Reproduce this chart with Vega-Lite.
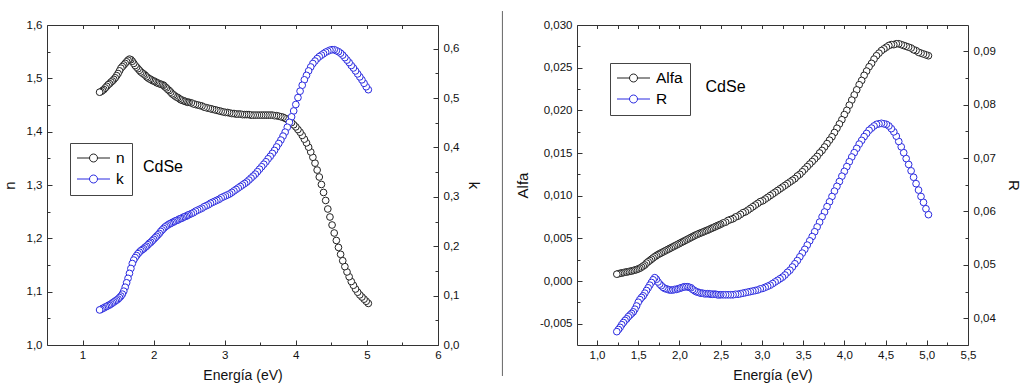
{
"$schema": "https://vega.github.io/schema/vega-lite/v6.json",
"padding": {"left": 2, "top": 10, "right": 5, "bottom": 3},
"datasets": {"p": [
{"E":1.24,"n":1.474,"k":0.071,"a":0.0008,"r":0.0375},
{"E":1.26,"n":1.475,"k":0.072,"a":0.00085,"r":0.0379},
{"E":1.28,"n":1.477,"k":0.074,"a":0.0009,"r":0.0383},
{"E":1.30,"n":1.479,"k":0.075,"a":0.00094,"r":0.0388},
{"E":1.32,"n":1.482,"k":0.077,"a":0.00098,"r":0.0392},
{"E":1.34,"n":1.485,"k":0.078,"a":0.00102,"r":0.0396},
{"E":1.36,"n":1.488,"k":0.080,"a":0.00106,"r":0.0399},
{"E":1.38,"n":1.490,"k":0.081,"a":0.0011,"r":0.0403},
{"E":1.40,"n":1.493,"k":0.083,"a":0.00113,"r":0.0406},
{"E":1.42,"n":1.495,"k":0.085,"a":0.00118,"r":0.0409},
{"E":1.44,"n":1.498,"k":0.087,"a":0.00123,"r":0.0412},
{"E":1.46,"n":1.501,"k":0.089,"a":0.00128,"r":0.0417},
{"E":1.48,"n":1.505,"k":0.091,"a":0.00134,"r":0.0423},
{"E":1.50,"n":1.509,"k":0.093,"a":0.00141,"r":0.0430},
{"E":1.52,"n":1.514,"k":0.096,"a":0.0015,"r":0.0435},
{"E":1.54,"n":1.519,"k":0.099,"a":0.00162,"r":0.0439},
{"E":1.56,"n":1.522,"k":0.103,"a":0.00175,"r":0.0442},
{"E":1.58,"n":1.525,"k":0.109,"a":0.00188,"r":0.0447},
{"E":1.60,"n":1.528,"k":0.117,"a":0.0021,"r":0.0452},
{"E":1.62,"n":1.531,"k":0.126,"a":0.00225,"r":0.0457},
{"E":1.64,"n":1.534,"k":0.135,"a":0.0024,"r":0.0462},
{"E":1.66,"n":1.536,"k":0.145,"a":0.00255,"r":0.0467},
{"E":1.68,"n":1.535,"k":0.155,"a":0.0027,"r":0.0472},
{"E":1.70,"n":1.532,"k":0.165,"a":0.00285,"r":0.0476},
{"E":1.72,"n":1.528,"k":0.172,"a":0.00297,"r":0.0473},
{"E":1.74,"n":1.524,"k":0.177,"a":0.0031,"r":0.0468},
{"E":1.76,"n":1.521,"k":0.181,"a":0.0032,"r":0.0464},
{"E":1.78,"n":1.518,"k":0.185,"a":0.0033,"r":0.0461},
{"E":1.80,"n":1.515,"k":0.188,"a":0.0034,"r":0.0458},
{"E":1.82,"n":1.512,"k":0.191,"a":0.0035,"r":0.0456},
{"E":1.84,"n":1.510,"k":0.193,"a":0.0036,"r":0.0455},
{"E":1.86,"n":1.508,"k":0.195,"a":0.0037,"r":0.0454},
{"E":1.88,"n":1.506,"k":0.198,"a":0.0038,"r":0.0453},
{"E":1.90,"n":1.503,"k":0.200,"a":0.0039,"r":0.0453},
{"E":1.92,"n":1.501,"k":0.203,"a":0.0040,"r":0.0453},
{"E":1.94,"n":1.499,"k":0.206,"a":0.0041,"r":0.0454},
{"E":1.96,"n":1.498,"k":0.208,"a":0.0042,"r":0.0454},
{"E":1.98,"n":1.496,"k":0.211,"a":0.0043,"r":0.0455},
{"E":2.00,"n":1.495,"k":0.214,"a":0.0044,"r":0.0456},
{"E":2.02,"n":1.494,"k":0.217,"a":0.0045,"r":0.0457},
{"E":2.04,"n":1.492,"k":0.220,"a":0.0046,"r":0.0458},
{"E":2.06,"n":1.491,"k":0.223,"a":0.0047,"r":0.0459},
{"E":2.08,"n":1.490,"k":0.226,"a":0.0048,"r":0.0459},
{"E":2.10,"n":1.489,"k":0.230,"a":0.0049,"r":0.0459},
{"E":2.12,"n":1.488,"k":0.233,"a":0.0050,"r":0.0458},
{"E":2.14,"n":1.487,"k":0.236,"a":0.0051,"r":0.0457},
{"E":2.16,"n":1.484,"k":0.239,"a":0.0052,"r":0.0454},
{"E":2.18,"n":1.482,"k":0.241,"a":0.0053,"r":0.0452},
{"E":2.20,"n":1.479,"k":0.243,"a":0.0054,"r":0.0450},
{"E":2.22,"n":1.477,"k":0.245,"a":0.00548,"r":0.0449},
{"E":2.24,"n":1.474,"k":0.246,"a":0.00556,"r":0.0448},
{"E":2.26,"n":1.471,"k":0.248,"a":0.00564,"r":0.0447},
{"E":2.28,"n":1.469,"k":0.249,"a":0.00572,"r":0.0447},
{"E":2.30,"n":1.467,"k":0.251,"a":0.0058,"r":0.0446},
{"E":2.32,"n":1.465,"k":0.252,"a":0.00588,"r":0.0446},
{"E":2.34,"n":1.464,"k":0.253,"a":0.00596,"r":0.0446},
{"E":2.36,"n":1.462,"k":0.255,"a":0.00604,"r":0.0446},
{"E":2.38,"n":1.460,"k":0.256,"a":0.00613,"r":0.0445},
{"E":2.40,"n":1.459,"k":0.257,"a":0.00622,"r":0.0445},
{"E":2.42,"n":1.458,"k":0.259,"a":0.0063,"r":0.0445},
{"E":2.44,"n":1.457,"k":0.260,"a":0.00639,"r":0.0445},
{"E":2.46,"n":1.456,"k":0.261,"a":0.00648,"r":0.0444},
{"E":2.48,"n":1.455,"k":0.263,"a":0.00656,"r":0.0444},
{"E":2.50,"n":1.455,"k":0.264,"a":0.00665,"r":0.0444},
{"E":2.53,"n":1.454,"k":0.266,"a":0.0068,"r":0.0444},
{"E":2.56,"n":1.452,"k":0.268,"a":0.0069,"r":0.0444},
{"E":2.59,"n":1.451,"k":0.271,"a":0.0071,"r":0.0444},
{"E":2.62,"n":1.450,"k":0.273,"a":0.0072,"r":0.0444},
{"E":2.65,"n":1.449,"k":0.275,"a":0.0073,"r":0.0444},
{"E":2.68,"n":1.448,"k":0.277,"a":0.0075,"r":0.0445},
{"E":2.71,"n":1.446,"k":0.280,"a":0.0076,"r":0.0445},
{"E":2.74,"n":1.445,"k":0.282,"a":0.0078,"r":0.0446},
{"E":2.77,"n":1.444,"k":0.284,"a":0.0080,"r":0.0447},
{"E":2.80,"n":1.443,"k":0.287,"a":0.0081,"r":0.0448},
{"E":2.83,"n":1.442,"k":0.289,"a":0.0083,"r":0.0449},
{"E":2.86,"n":1.441,"k":0.291,"a":0.0085,"r":0.0450},
{"E":2.89,"n":1.440,"k":0.293,"a":0.0087,"r":0.0451},
{"E":2.92,"n":1.439,"k":0.295,"a":0.0089,"r":0.0452},
{"E":2.95,"n":1.438,"k":0.298,"a":0.0091,"r":0.0453},
{"E":2.98,"n":1.437,"k":0.300,"a":0.0093,"r":0.0455},
{"E":3.01,"n":1.436,"k":0.302,"a":0.0094,"r":0.0456},
{"E":3.04,"n":1.436,"k":0.304,"a":0.0096,"r":0.0458},
{"E":3.07,"n":1.435,"k":0.306,"a":0.0098,"r":0.0460},
{"E":3.10,"n":1.434,"k":0.309,"a":0.0100,"r":0.0462},
{"E":3.13,"n":1.434,"k":0.312,"a":0.0102,"r":0.0465},
{"E":3.16,"n":1.433,"k":0.315,"a":0.0104,"r":0.0468},
{"E":3.19,"n":1.433,"k":0.318,"a":0.0106,"r":0.0471},
{"E":3.22,"n":1.433,"k":0.321,"a":0.0108,"r":0.0474},
{"E":3.25,"n":1.432,"k":0.324,"a":0.0110,"r":0.0477},
{"E":3.28,"n":1.432,"k":0.327,"a":0.0112,"r":0.0481},
{"E":3.31,"n":1.432,"k":0.330,"a":0.0114,"r":0.0486},
{"E":3.34,"n":1.432,"k":0.334,"a":0.0116,"r":0.0490},
{"E":3.37,"n":1.431,"k":0.338,"a":0.0118,"r":0.0496},
{"E":3.40,"n":1.431,"k":0.342,"a":0.0120,"r":0.0502},
{"E":3.43,"n":1.431,"k":0.346,"a":0.0123,"r":0.0508},
{"E":3.46,"n":1.431,"k":0.351,"a":0.0125,"r":0.0515},
{"E":3.49,"n":1.431,"k":0.356,"a":0.0128,"r":0.0522},
{"E":3.52,"n":1.431,"k":0.361,"a":0.0131,"r":0.0529},
{"E":3.55,"n":1.431,"k":0.366,"a":0.0134,"r":0.0537},
{"E":3.58,"n":1.431,"k":0.371,"a":0.0137,"r":0.0545},
{"E":3.61,"n":1.431,"k":0.377,"a":0.0140,"r":0.0553},
{"E":3.64,"n":1.431,"k":0.382,"a":0.0143,"r":0.0562},
{"E":3.67,"n":1.431,"k":0.388,"a":0.0146,"r":0.0571},
{"E":3.70,"n":1.430,"k":0.394,"a":0.0150,"r":0.0580},
{"E":3.73,"n":1.430,"k":0.401,"a":0.0153,"r":0.0590},
{"E":3.76,"n":1.429,"k":0.408,"a":0.0157,"r":0.0599},
{"E":3.79,"n":1.428,"k":0.415,"a":0.0161,"r":0.0609},
{"E":3.82,"n":1.427,"k":0.423,"a":0.0165,"r":0.0618},
{"E":3.85,"n":1.425,"k":0.431,"a":0.0169,"r":0.0628},
{"E":3.88,"n":1.423,"k":0.441,"a":0.0174,"r":0.0638},
{"E":3.91,"n":1.420,"k":0.451,"a":0.0179,"r":0.0647},
{"E":3.94,"n":1.417,"k":0.462,"a":0.0184,"r":0.0656},
{"E":3.97,"n":1.413,"k":0.474,"a":0.0189,"r":0.0666},
{"E":4.00,"n":1.409,"k":0.487,"a":0.0195,"r":0.0675},
{"E":4.03,"n":1.404,"k":0.501,"a":0.0200,"r":0.0684},
{"E":4.06,"n":1.399,"k":0.514,"a":0.0206,"r":0.0693},
{"E":4.09,"n":1.393,"k":0.526,"a":0.0212,"r":0.0702},
{"E":4.12,"n":1.386,"k":0.537,"a":0.0218,"r":0.0710},
{"E":4.15,"n":1.379,"k":0.546,"a":0.0224,"r":0.0718},
{"E":4.18,"n":1.371,"k":0.555,"a":0.0230,"r":0.0726},
{"E":4.21,"n":1.362,"k":0.563,"a":0.0235,"r":0.0733},
{"E":4.24,"n":1.352,"k":0.570,"a":0.0241,"r":0.0740},
{"E":4.27,"n":1.341,"k":0.575,"a":0.0246,"r":0.0746},
{"E":4.30,"n":1.328,"k":0.580,"a":0.0251,"r":0.0752},
{"E":4.33,"n":1.315,"k":0.584,"a":0.0255,"r":0.0756},
{"E":4.36,"n":1.301,"k":0.587,"a":0.0260,"r":0.0760},
{"E":4.39,"n":1.286,"k":0.590,"a":0.0264,"r":0.0763},
{"E":4.42,"n":1.271,"k":0.593,"a":0.0267,"r":0.0764},
{"E":4.45,"n":1.255,"k":0.595,"a":0.0270,"r":0.0765},
{"E":4.48,"n":1.240,"k":0.597,"a":0.0272,"r":0.0764},
{"E":4.51,"n":1.225,"k":0.598,"a":0.0274,"r":0.0763},
{"E":4.54,"n":1.210,"k":0.598,"a":0.0276,"r":0.0760},
{"E":4.57,"n":1.196,"k":0.596,"a":0.0277,"r":0.0755},
{"E":4.60,"n":1.183,"k":0.594,"a":0.0277,"r":0.0749},
{"E":4.63,"n":1.170,"k":0.591,"a":0.0278,"r":0.0741},
{"E":4.66,"n":1.158,"k":0.587,"a":0.0278,"r":0.0731},
{"E":4.69,"n":1.147,"k":0.582,"a":0.0277,"r":0.0721},
{"E":4.72,"n":1.137,"k":0.577,"a":0.0276,"r":0.0710},
{"E":4.75,"n":1.128,"k":0.572,"a":0.0275,"r":0.0699},
{"E":4.78,"n":1.119,"k":0.566,"a":0.0274,"r":0.0688},
{"E":4.81,"n":1.112,"k":0.561,"a":0.0273,"r":0.0676},
{"E":4.84,"n":1.105,"k":0.555,"a":0.0271,"r":0.0664},
{"E":4.87,"n":1.099,"k":0.549,"a":0.0270,"r":0.0652},
{"E":4.90,"n":1.094,"k":0.543,"a":0.0268,"r":0.0640},
{"E":4.93,"n":1.090,"k":0.537,"a":0.0267,"r":0.0628},
{"E":4.96,"n":1.086,"k":0.530,"a":0.0266,"r":0.0617},
{"E":4.99,"n":1.082,"k":0.523,"a":0.0265,"r":0.0605},
{"E":5.02,"n":1.078,"k":0.517,"a":0.0264,"r":0.0594}
]},
"hconcat": [
{
"width": 391, "height": 320,
"layer": [
{"data": {"name": "p"}, "mark": {"type": "point", "opacity": 0},
 "encoding": {
  "x": {"field": "E", "type": "quantitative", "scale": {"domain": [0.5, 6], "nice": false, "zero": false},
        "axis": {"orient": "bottom", "values": [1.5, 2.5, 3.5, 4.5, 5.5], "labels": false, "domain": false, "tickSize": -3, "title": null}},
  "y": {"field": "n", "type": "quantitative", "scale": {"domain": [1, 1.6], "nice": false, "zero": false},
        "axis": {"orient": "left", "values": [1.05, 1.15, 1.25, 1.35, 1.45, 1.55], "labels": false, "domain": false, "tickSize": -3, "title": null}}}},
{"data": {"name": "p"}, "mark": {"type": "point", "opacity": 0},
 "encoding": {
  "x": {"field": "E", "type": "quantitative", "scale": {"domain": [0.5, 6], "nice": false, "zero": false},
        "axis": {"orient": "top", "values": [1, 1.5, 2, 2.5, 3, 3.5, 4, 4.5, 5, 5.5], "labels": false, "tickSize": -3.5, "title": null}},
  "y": {"field": "k", "type": "quantitative", "scale": {"domain": [0, 0.648], "nice": false, "zero": false},
        "axis": {"orient": "right", "values": [0.05, 0.15, 0.25, 0.35, 0.45, 0.55], "labels": false, "domain": false, "tickSize": -3, "title": null}}}},
{"data": {"name": "p"}, "mark": {"type": "point", "filled": false, "fill": "white", "fillOpacity": 1, "size": 45, "strokeWidth": 1, "opacity": 1},
 "encoding": {
  "x": {"field": "E", "type": "quantitative", "scale": {"domain": [0.5, 6], "nice": false, "zero": false},
        "axis": {"orient": "bottom", "values": [1, 2, 3, 4, 5, 6], "format": "d", "tickSize": -5, "labelPadding": 9, "title": "Energía (eV)", "titlePadding": 8}},
  "y": {"field": "n", "type": "quantitative", "scale": {"domain": [1, 1.6], "nice": false, "zero": false},
        "axis": {"orient": "left", "values": [1, 1.1, 1.2, 1.3, 1.4, 1.5, 1.6], "format": ".1f", "tickSize": -5, "labelPadding": 10, "title": "n", "titlePadding": 9}},
  "color": {"datum": "n", "type": "nominal", "scale": {"domain": ["n", "k"], "range": ["#222222", "#2a2ae0"]},
        "legend": {"orient": "none", "legendX": 23, "legendY": 118, "title": null}},
  "order": {"field": "E", "type": "quantitative", "sort": "descending"}}},
{"data": {"name": "p"}, "mark": {"type": "point", "filled": false, "fill": "white", "fillOpacity": 1, "size": 45, "strokeWidth": 1, "opacity": 1},
 "encoding": {
  "x": {"field": "E", "type": "quantitative", "scale": {"domain": [0.5, 6], "nice": false, "zero": false}, "axis": null},
  "y": {"field": "k", "type": "quantitative", "scale": {"domain": [0, 0.648], "nice": false, "zero": false},
        "axis": {"orient": "right", "values": [0, 0.1, 0.2, 0.3, 0.4, 0.5, 0.6], "format": ".1f", "tickSize": -5, "labelPadding": 10, "title": "k", "titlePadding": 7}},
  "color": {"datum": "k", "type": "nominal", "scale": {"domain": ["n", "k"], "range": ["#222222", "#2a2ae0"]},
        "legend": {"orient": "none", "legendX": 23, "legendY": 118, "title": null}},
  "order": {"field": "E", "type": "quantitative", "sort": "descending"}}},
{"data": {"values": [{"label": "CdSe"}]}, "mark": {"type": "text", "fontSize": 16, "align": "center", "baseline": "middle", "color": "#000"},
 "encoding": {
  "x": {"datum": 2.131, "type": "quantitative", "scale": {"domain": [0.5, 6], "nice": false, "zero": false}, "axis": null},
  "y": {"datum": 1.3337, "type": "quantitative", "scale": {"domain": [1, 1.6], "nice": false, "zero": false}, "axis": null},
  "text": {"field": "label"}}},
{"data": {"values": [{"label": "sep"}]}, "mark": {"type": "rule", "color": "#666666", "strokeWidth": 1},
 "encoding": {
  "x": {"datum": 6.906, "type": "quantitative", "scale": {"domain": [0.5, 6], "nice": false, "zero": false}, "axis": null},
  "y": {"datum": 1.6262, "type": "quantitative", "scale": {"domain": [1, 1.6], "nice": false, "zero": false}, "axis": null},
  "y2": {"datum": 0.9419}}}
],
"resolve": {"scale": {"y": "independent"}, "axis": {"x": "independent", "y": "independent"}}
},
{
"width": 391, "height": 320,
"layer": [
{"data": {"name": "p"}, "mark": {"type": "point", "opacity": 0},
 "encoding": {
  "x": {"field": "E", "type": "quantitative", "scale": {"domain": [0.757, 5.5], "nice": false, "zero": false},
        "axis": {"orient": "bottom", "values": [1.25, 1.75, 2.25, 2.75, 3.25, 3.75, 4.25, 4.75, 5.25], "labels": false, "domain": false, "tickSize": -3, "title": null}},
  "y": {"field": "a", "type": "quantitative", "scale": {"domain": [-0.0075, 0.03], "nice": false, "zero": false},
        "axis": {"orient": "left", "values": [-0.0025, 0.0025, 0.0075, 0.0125, 0.0175, 0.0225, 0.0275], "labels": false, "domain": false, "tickSize": -3, "title": null}}}},
{"data": {"name": "p"}, "mark": {"type": "point", "opacity": 0},
 "encoding": {
  "x": {"field": "E", "type": "quantitative", "scale": {"domain": [0.757, 5.5], "nice": false, "zero": false},
        "axis": {"orient": "top", "values": [1, 1.25, 1.5, 1.75, 2, 2.25, 2.5, 2.75, 3, 3.25, 3.5, 3.75, 4, 4.25, 4.5, 4.75, 5, 5.25], "labels": false, "tickSize": -3.5, "title": null}},
  "y": {"field": "r", "type": "quantitative", "scale": {"domain": [0.035, 0.0949], "nice": false, "zero": false},
        "axis": {"orient": "right", "values": [0.045, 0.055, 0.065, 0.075, 0.085], "labels": false, "domain": false, "tickSize": -3, "title": null}}}},
{"data": {"name": "p"}, "mark": {"type": "point", "filled": false, "fill": "white", "fillOpacity": 1, "size": 45, "strokeWidth": 1, "opacity": 1},
 "encoding": {
  "x": {"field": "E", "type": "quantitative", "scale": {"domain": [0.757, 5.5], "nice": false, "zero": false},
        "axis": {"orient": "bottom", "values": [1, 1.5, 2, 2.5, 3, 3.5, 4, 4.5, 5, 5.5], "format": ".1f", "tickSize": -5, "labelPadding": 9, "title": "Energía (eV)", "titlePadding": 8}},
  "y": {"field": "a", "type": "quantitative", "scale": {"domain": [-0.0075, 0.03], "nice": false, "zero": false},
        "axis": {"orient": "left", "values": [-0.005, 0, 0.005, 0.01, 0.015, 0.02, 0.025, 0.03], "format": ".3f", "tickSize": -5, "labelPadding": 10, "title": "Alfa", "titlePadding": 9}},
  "color": {"datum": "Alfa", "type": "nominal", "scale": {"domain": ["Alfa", "R"], "range": ["#222222", "#2a2ae0"]},
        "legend": {"orient": "none", "legendX": 33, "legendY": 38, "title": null}},
  "order": {"field": "E", "type": "quantitative", "sort": "descending"}}},
{"data": {"name": "p"}, "mark": {"type": "point", "filled": false, "fill": "white", "fillOpacity": 1, "size": 45, "strokeWidth": 1, "opacity": 1},
 "encoding": {
  "x": {"field": "E", "type": "quantitative", "scale": {"domain": [0.757, 5.5], "nice": false, "zero": false}, "axis": null},
  "y": {"field": "r", "type": "quantitative", "scale": {"domain": [0.035, 0.0949], "nice": false, "zero": false},
        "axis": {"orient": "right", "values": [0.04, 0.05, 0.06, 0.07, 0.08, 0.09], "format": ".2f", "tickSize": -5, "labelPadding": 10, "title": "R", "titlePadding": 10}},
  "color": {"datum": "R", "type": "nominal", "scale": {"domain": ["Alfa", "R"], "range": ["#222222", "#2a2ae0"]},
        "legend": {"orient": "none", "legendX": 33, "legendY": 38, "title": null}},
  "order": {"field": "E", "type": "quantitative", "sort": "descending"}}},
{"data": {"values": [{"label": "CdSe"}]}, "mark": {"type": "text", "fontSize": 16, "align": "center", "baseline": "middle", "color": "#000"},
 "encoding": {
  "x": {"datum": 2.559, "type": "quantitative", "scale": {"domain": [0.757, 5.5], "nice": false, "zero": false}, "axis": null},
  "y": {"datum": 0.02274, "type": "quantitative", "scale": {"domain": [-0.0075, 0.03], "nice": false, "zero": false}, "axis": null},
  "text": {"field": "label"}}}
],
"resolve": {"scale": {"y": "independent"}, "axis": {"x": "independent", "y": "independent"}}
}
],
"spacing": 12,
"resolve": {"scale": {"color": "independent"}, "legend": {"color": "independent"}},
"config": {
  "locale": {"number": {"decimal": ",", "thousands": ".", "grouping": [3], "currency": ["", " €"], "minus": "-"}},
  "font": "Liberation Sans",
  "view": {"stroke": null},
  "axis": {"grid": false, "domainColor": "#333333", "tickColor": "#333333", "labelColor": "#111111", "titleColor": "#111111",
           "labelFontSize": 11.5, "titleFontSize": 15, "titleFontWeight": "normal", "labelFlush": false, "labelOverlap": false,
           "tickWidth": 1, "domainWidth": 1, "labelFont": "Liberation Sans", "titleFont": "Liberation Sans"},
  "axisX": {"titleFontSize": 14},
  "legend": {"symbolType": "M-2.2,0L-0.533,0M0.533,0A0.533,0.533,0,1,1,-0.533,0A0.533,0.533,0,1,1,0.533,0M0.533,0L2.2,0",
             "symbolSize": 225, "symbolStrokeWidth": 1, "symbolOffset": 8.5, "labelOffset": 14.5, "labelFontSize": 15.5,
             "labelFont": "Liberation Sans", "labelColor": "#000000", "padding": 7, "rowPadding": 4,
             "strokeColor": "#444444", "fillColor": "white", "symbolFillColor": "white"}
}
}
